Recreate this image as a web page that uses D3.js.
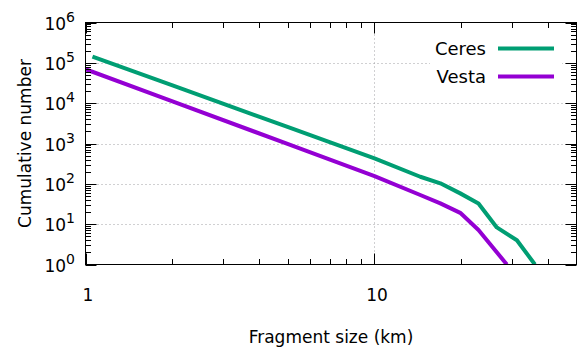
<!DOCTYPE html>
<html>
<head>
<meta charset="utf-8">
<script src="https://cdn.jsdelivr.net/npm/d3@7"></script>
<style>
  html, body { margin: 0; padding: 0; background: #fff; }
  svg { display: block; }
  text { font-family: "DejaVu Sans", sans-serif; fill: #000; }
</style>
</head>
<body>
<svg id="chart" width="577" height="347"></svg>
<script>
// ---- data ----
const seriesNames = ["Ceres", "Vesta"];
const ceresSize  = [1.057, 2, 5, 10, 14.4, 16.9, 19.8, 22.9, 26.5, 31.1, 35.9];
const ceresCount = [142000, 27600, 2580, 429, 150, 103, 58, 32.7, 8.3, 4.0, 1.0];
const vestaSize  = [1, 2, 5, 10, 14.4, 16.9, 19.8, 22.9, 28.7];
const vestaCount = [69500, 11100, 977, 156, 52.9, 32.7, 19.1, 7.2, 1.0];
const xMajorTicks = [1, 10];
const xMinorTicks = [2, 3, 4, 5, 6, 7, 8, 9, 20, 30, 40];
const yExponents = [0, 1, 2, 3, 4, 5, 6];
const xDomain = [1, 50];
const yDomain = [1, 1e6];

const colors = { Ceres: "#009e73", Vesta: "#9400d3" };

(function () {
const svg = d3.select("#chart");
const pL = 85.5, pR = 576.5, pT = 22.5, pB = 264.5;

const x = d3.scaleLog().domain(xDomain).range([pL, pR]);
const y = d3.scaleLog().domain(yDomain).range([pB, pT]);

// clip
svg.append("defs").append("clipPath").attr("id", "clip")
  .append("rect").attr("x", pL).attr("y", pT)
  .attr("width", pR - pL).attr("height", pB - pT);

// grid
const grid = svg.append("g").attr("stroke", "#a0a0a4").attr("stroke-width", 1)
  .attr("stroke-dasharray", "1,3");
yExponents.slice(1, -1).forEach(e => {
  const yy = Math.round(y(Math.pow(10, e))) + 0.5;
  grid.append("line").attr("x1", pL).attr("x2", pR).attr("y1", yy).attr("y2", yy);
});
xMajorTicks.slice(1).forEach(v => {
  const xx = Math.round(x(v)) + 0.5;
  grid.append("line").attr("x1", xx).attr("x2", xx).attr("y1", pT).attr("y2", pB);
});

// lines
const line = d3.line().x(d => x(d[0])).y(d => y(d[1]));
const ceres = ceresSize.map((s, i) => [s, ceresCount[i]]);
const vesta = vestaSize.map((s, i) => [s, vestaCount[i]]);
const plot = svg.append("g").attr("clip-path", "url(#clip)");
plot.append("path").datum(ceres).attr("d", line).attr("fill", "none")
  .attr("stroke", colors.Ceres).attr("stroke-width", 4).attr("stroke-linejoin", "round");
plot.append("path").datum(vesta).attr("d", line).attr("fill", "none")
  .attr("stroke", colors.Vesta).attr("stroke-width", 4).attr("stroke-linejoin", "round");

// legend (opaque box)
svg.append("rect").attr("x", 430).attr("y", 34).attr("width", 132).attr("height", 58).attr("fill", "#fff");
const legY = [48.5, 76.5];
seriesNames.forEach((n, i) => {
  svg.append("text").attr("x", 486).attr("y", legY[i] + 6.5).attr("text-anchor", "end")
    .attr("font-size", 18).text(n);
  svg.append("line").attr("x1", 498).attr("x2", 554).attr("y1", legY[i]).attr("y2", legY[i])
    .attr("stroke", colors[n]).attr("stroke-width", 4);
});

// ticks
const ticks = svg.append("g").attr("stroke", "#000").attr("stroke-width", 1);
const majorLen = 11, minorLen = 5.5;
function xt(v, len) {
  const xx = Math.round(x(v)) + 0.5;
  ticks.append("line").attr("x1", xx).attr("x2", xx).attr("y1", pB).attr("y2", pB - len);
  ticks.append("line").attr("x1", xx).attr("x2", xx).attr("y1", pT).attr("y2", pT + len);
}
xMajorTicks.forEach(v => xt(v, majorLen));
xMinorTicks.forEach(v => xt(v, minorLen));
function yt(v, len) {
  const yy = Math.round(y(v)) + 0.5;
  ticks.append("line").attr("x1", pL).attr("x2", pL + len).attr("y1", yy).attr("y2", yy);
  ticks.append("line").attr("x1", pR).attr("x2", pR - len).attr("y1", yy).attr("y2", yy);
}
yExponents.forEach(e => {
  yt(Math.pow(10, e), majorLen);
  if (e < yExponents[yExponents.length - 1]) {
    for (let m = 2; m <= 9; m++) yt(m * Math.pow(10, e), minorLen);
  }
});

// border
svg.append("rect").attr("x", pL).attr("y", pT).attr("width", pR - pL).attr("height", pB - pT)
  .attr("fill", "none").attr("stroke", "#000").attr("stroke-width", 1);

// x tick labels
xMajorTicks.forEach(v => {
  svg.append("text").attr("x", x(v) + 2.5).attr("y", 301).attr("text-anchor", "middle")
    .attr("font-size", 17).text(String(v));
});

// y tick labels
yExponents.forEach(e => {
  const t = svg.append("text").attr("x", 75).attr("y", y(Math.pow(10, e)) + 7)
    .attr("text-anchor", "end").attr("font-size", 17);
  t.append("tspan").text("10");
  t.append("tspan").attr("dy", -8).attr("font-size", 14).text(String(e));
});

// axis titles
svg.append("text").attr("x", (pL + pR) / 2).attr("y", 343).attr("text-anchor", "middle")
  .attr("font-size", 17).text("Fragment size (km)");
svg.append("text").attr("transform", `translate(31,${(pT + pB) / 2}) rotate(-90)`)
  .attr("text-anchor", "middle").attr("font-size", 17).text("Cumulative number");
})();
</script>
</body>
</html>
